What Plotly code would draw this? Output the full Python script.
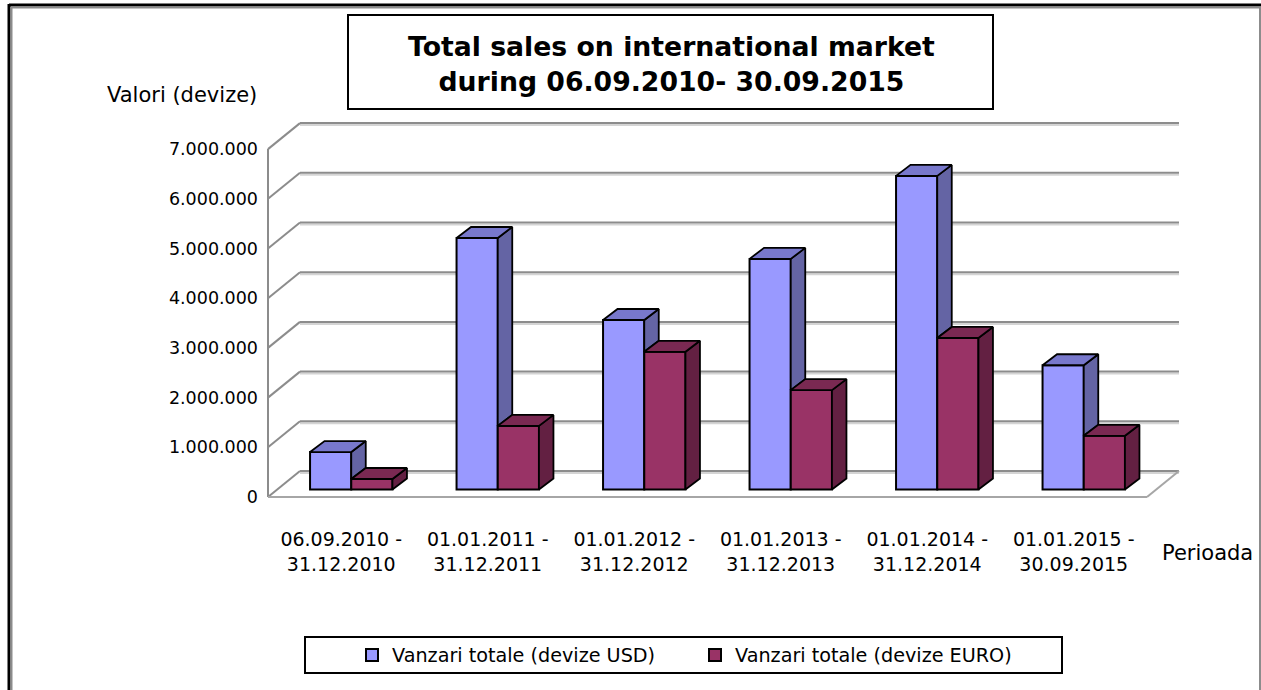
import plotly.graph_objects as go

# ---------------- data ----------------
categories = [
    "06.09.2010 -<br>31.12.2010",
    "01.01.2011 -<br>31.12.2011",
    "01.01.2012 -<br>31.12.2012",
    "01.01.2013 -<br>31.12.2013",
    "01.01.2014 -<br>31.12.2014",
    "01.01.2015 -<br>30.09.2015",
]
usd_values = [754000, 5060000, 3410000, 4640000, 6310000, 2500000]
euro_values = [211000, 1280000, 2770000, 2000000, 3050000, 1080000]
series_names = ["Vanzari totale (devize USD)", "Vanzari totale (devize EURO)"]
y_tickvals = [0, 1000000, 2000000, 3000000, 4000000, 5000000, 6000000, 7000000]
y_ticktext = ["0", "1.000.000", "2.000.000", "3.000.000", "4.000.000",
              "5.000.000", "6.000.000", "7.000.000"]
title_text = "Total sales on international market<br>during 06.09.2010- 30.09.2015"
y_title = "Valori (devize)"
x_title = "Perioada"

# ---------------- layout geometry (pixels) ----------------
W, H = 1261, 690
L, R, T, B = 263, 1188, 117, 503          # plot area
X0_PX, Y0_PX = 268, 497                    # front-left-bottom corner
CAT_PX = 146.5                             # px per category
M_PX = 49.7                                # px per 1.000.000
UNIT = 1e6

def dx(px):
    return px / CAT_PX

def dy(px):
    return px / M_PX * UNIT

WDX, WDY = dx(32), dy(26)      # wall depth
FDX, FDY = dx(10), dy(7.5)     # bar front-face depth offset
BDX, BDY = dx(14.5), dy(11)    # bar depth
BW = dx(41.2)                  # bar width

n = len(categories)
xmin_front, xmax_front = -0.5, n - 0.5
x_range = [-0.5 - dx(X0_PX - L), -0.5 + dx(R - X0_PX)]
y_range = [-dy(B - Y0_PX), dy(Y0_PX - T)]

def pxx(p):
    return (p - L) / (R - L)

def pyy(p):
    return (B - p) / (B - T)

colors_front = ["#9999FF", "#993366"]
colors_top = ["#7878CC", "#7A2952"]
colors_side = ["#6464A4", "#632042"]
series = [usd_values, euro_values]

fig = go.Figure()

# front faces as bars
for s, vals in enumerate(series):
    fig.add_trace(go.Bar(
        x=list(range(n)), y=vals, base=[FDY] * n,
        offset=-BW + s * BW + FDX, width=BW,
        name=series_names[s],
        marker=dict(color=colors_front[s], line=dict(color="black", width=2)),
        hoverinfo="skip",
    ))

# top and side faces
for s, vals in enumerate(series):
    tx, ty, sx, sy = [], [], [], []
    for i in range(n):
        xl = i - BW + s * BW + FDX
        xr = xl + BW
        base = FDY
        top = base + vals[i]
        tx += [xl, xl + BDX, xr + BDX, xr, xl, None]
        ty += [top, top + BDY, top + BDY, top, top, None]
        low = base
        if s + 1 < len(series):
            low = max(base, base + series[s + 1][i])
        if top > low:
            sx += [xr, xr, xr + BDX, xr + BDX, xr, None]
            sy += [low, top, top + BDY, low + BDY, low, None]
    fig.add_trace(go.Scatter(x=sx, y=sy, mode="lines", fill="toself",
                             fillcolor=colors_side[s],
                             line=dict(color="black", width=1.8),
                             showlegend=False, hoverinfo="skip"))
    fig.add_trace(go.Scatter(x=tx, y=ty, mode="lines", fill="toself",
                             fillcolor=colors_top[s],
                             line=dict(color="black", width=1.8),
                             showlegend=False, hoverinfo="skip"))

shapes = []
GRID = "#8C8C8C"
SHADOW = "#D4D4D4"
sh = dy(2)
# back wall gridlines and left wall diagonals (with light shadow)
for k in y_tickvals:
    shapes.append(dict(type="line", xref="x", yref="y", layer="below",
                       x0=xmin_front + WDX, x1=xmax_front + WDX, y0=k + WDY - sh, y1=k + WDY - sh,
                       line=dict(color=SHADOW, width=2)))
    shapes.append(dict(type="line", xref="x", yref="y", layer="below",
                       x0=xmin_front + WDX, x1=xmax_front + WDX, y0=k + WDY, y1=k + WDY,
                       line=dict(color=GRID, width=2)))
    shapes.append(dict(type="line", xref="x", yref="y", layer="below",
                       x0=xmin_front, x1=xmin_front + WDX, y0=k, y1=k + WDY,
                       line=dict(color=GRID, width=2)))
# front vertical axis line
shapes.append(dict(type="line", xref="x", yref="y", layer="below",
                   x0=xmin_front, x1=xmin_front, y0=0, y1=y_tickvals[-1],
                   line=dict(color=GRID, width=2)))
# floor front edge and right edge
shapes.append(dict(type="line", xref="x", yref="y", layer="below",
                   x0=xmin_front, x1=xmax_front, y0=0, y1=0,
                   line=dict(color="#A6A6A6", width=2)))
shapes.append(dict(type="line", xref="x", yref="y", layer="below",
                   x0=xmax_front, x1=xmax_front + WDX, y0=0, y1=WDY,
                   line=dict(color="#A6A6A6", width=2)))

# outer frame
shapes += [
    dict(type="line", xref="paper", yref="paper", x0=pxx(9), x1=pxx(1261), y0=pyy(5), y1=pyy(5),
         line=dict(color="black", width=3)),
    dict(type="line", xref="paper", yref="paper", x0=pxx(9), x1=pxx(9), y0=pyy(4), y1=pyy(700),
         line=dict(color="black", width=3)),
    dict(type="line", xref="paper", yref="paper", x0=pxx(11), x1=pxx(1260), y0=pyy(7.5), y1=pyy(7.5),
         line=dict(color="#8C8C8C", width=2)),
    dict(type="line", xref="paper", yref="paper", x0=pxx(11.5), x1=pxx(11.5), y0=pyy(7), y1=pyy(700),
         line=dict(color="#8C8C8C", width=2)),
    dict(type="line", xref="paper", yref="paper", x0=pxx(1260), x1=pxx(1260), y0=pyy(7), y1=pyy(700),
         line=dict(color="#8C8C8C", width=2)),
]
# title box
shapes.append(dict(type="rect", xref="paper", yref="paper",
                   x0=pxx(348), x1=pxx(993), y0=pyy(109), y1=pyy(15),
                   line=dict(color="black", width=2), fillcolor="white"))
# legend box
shapes.append(dict(type="rect", xref="paper", yref="paper",
                   x0=pxx(305), x1=pxx(1062), y0=pyy(673), y1=pyy(637),
                   line=dict(color="black", width=2), fillcolor="rgba(0,0,0,0)"))

annotations = [
    dict(text="<b>" + title_text + "</b>", x=pxx(671), y=pyy(64.5), xref="paper", yref="paper",
         showarrow=False, xanchor="center", yanchor="middle",
         font=dict(family="DejaVu Sans", size=26.7, color="black")),
    dict(text=y_title, x=pxx(182), y=pyy(95), xref="paper", yref="paper",
         showarrow=False, xanchor="center", yanchor="middle",
         font=dict(family="DejaVu Sans", size=21, color="black")),
    dict(text=x_title, x=pxx(1207.5), y=pyy(553), xref="paper", yref="paper",
         showarrow=False, xanchor="center", yanchor="middle",
         font=dict(family="DejaVu Sans", size=21, color="black")),
]

fig.update_layout(
    width=W, height=H,
    margin=dict(l=L, r=W - R, t=T, b=H - B, pad=0),
    paper_bgcolor="white", plot_bgcolor="rgba(0,0,0,0)",
    font=dict(family="DejaVu Sans", color="black"),
    barmode="overlay",
    shapes=shapes, annotations=annotations,
    showlegend=True,
    legend=dict(orientation="h", x=pxx(352), xanchor="left", y=pyy(655), yanchor="middle",
                font=dict(size=19.2, family="DejaVu Sans"), bgcolor="rgba(0,0,0,0)",
                borderwidth=0, traceorder="normal", entrywidth=298),
    xaxis=dict(range=x_range, tickmode="array", tickvals=list(range(n)), ticktext=categories,
               showgrid=False, zeroline=False, showline=False, ticks="",
               tickfont=dict(size=19), ticklabelstandoff=23, fixedrange=True),
    yaxis=dict(range=y_range, tickmode="array", tickvals=y_tickvals, ticktext=y_ticktext,
               showgrid=False, zeroline=False, showline=False, ticks="",
               tickfont=dict(size=17.5), ticklabelstandoff=4, fixedrange=True),
)

fig.write_html("out.html", config={"displayModeBar": False},
               post_script="document.body.style.margin='0px';")
